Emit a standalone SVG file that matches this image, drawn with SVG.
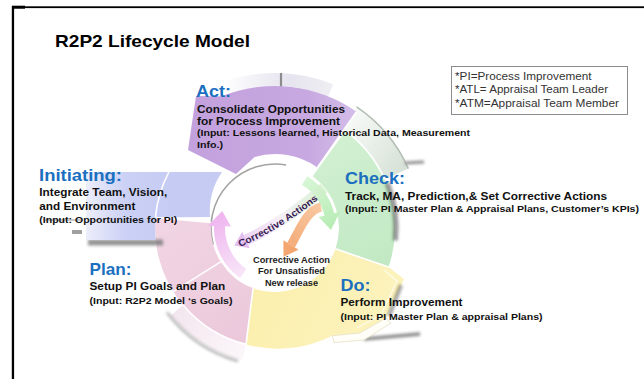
<svg xmlns="http://www.w3.org/2000/svg" width="644" height="379" viewBox="0 0 644 379">
<defs>
<style>
.t{font-family:"Liberation Sans",Arial,Helvetica,sans-serif;font-weight:700}
.ttl{font-size:17px;fill:#000}
.ph{font-size:16.5px;fill:#1b6fbf}
.ds{font-size:10.8px;fill:#111}
.in{font-size:9.7px;fill:#111}
.ct{font-size:8.6px;fill:#222;text-anchor:middle}
.ca{font-size:9.6px;fill:#3a1c55}
.lg{font-family:"Liberation Sans",Arial,Helvetica,sans-serif;font-size:11.3px;fill:#333}
.dv{fill:none;stroke:#fff;stroke-width:1.6}
.sh{fill:none;filter:url(#soft)}
</style>
<filter id="soft" filterUnits="userSpaceOnUse" x="0" y="0" width="644" height="379"><feGaussianBlur stdDeviation="1.6"/></filter>
<filter id="fine" filterUnits="userSpaceOnUse" x="0" y="0" width="644" height="379"><feGaussianBlur stdDeviation="0.7"/></filter>
<linearGradient id="gBlue" gradientUnits="userSpaceOnUse" x1="86" y1="0" x2="175" y2="0"><stop offset="0" stop-color="#eceefb"/><stop offset="0.45" stop-color="#cbd0f5"/><stop offset="1" stop-color="#c5cbf3"/></linearGradient>
<linearGradient id="gPurple" gradientUnits="userSpaceOnUse" x1="190" y1="0" x2="356" y2="0"><stop offset="0" stop-color="#c3a1dd"/><stop offset="0.7" stop-color="#c7a8e0"/><stop offset="1" stop-color="#d3bde8"/></linearGradient>
<linearGradient id="gGreen" gradientUnits="userSpaceOnUse" x1="320" y1="130" x2="380" y2="260"><stop offset="0" stop-color="#d3f1d3"/><stop offset="1" stop-color="#c2e9c4"/></linearGradient>
<linearGradient id="gYellow" gradientUnits="userSpaceOnUse" x1="250" y1="260" x2="400" y2="330"><stop offset="0" stop-color="#fbefac"/><stop offset="1" stop-color="#fcf3be"/></linearGradient>
<linearGradient id="gPink" gradientUnits="userSpaceOnUse" x1="160" y1="220" x2="250" y2="340"><stop offset="0" stop-color="#f1d5e4"/><stop offset="1" stop-color="#ebc8db"/></linearGradient>
<linearGradient id="gBandG" gradientUnits="userSpaceOnUse" x1="345" y1="125" x2="410" y2="170"><stop offset="0" stop-color="#f7faf7"/><stop offset="1" stop-color="#d4dfd4"/></linearGradient>
<linearGradient id="gBandA" gradientUnits="userSpaceOnUse" x1="222" y1="0" x2="333" y2="0"><stop offset="0" stop-color="#ffffff"/><stop offset="0.6" stop-color="#e6e4ee"/><stop offset="1" stop-color="#efeef3"/></linearGradient>
<linearGradient id="gBandP" gradientUnits="userSpaceOnUse" x1="175" y1="310" x2="245" y2="360"><stop offset="0" stop-color="#f3e6ee"/><stop offset="1" stop-color="#fcf7fa"/></linearGradient>
<linearGradient id="gCA" gradientUnits="userSpaceOnUse" x1="236" y1="0" x2="324" y2="0"><stop offset="0" stop-color="#e4c2f2"/><stop offset="0.5" stop-color="#f3ecf6"/><stop offset="1" stop-color="#cdefc6"/></linearGradient>
<linearGradient id="gOrange" gradientUnits="userSpaceOnUse" x1="322" y1="205" x2="283" y2="257"><stop offset="0" stop-color="#f9c9a3"/><stop offset="1" stop-color="#f3a46e"/></linearGradient>
<linearGradient id="gPinkArrow" gradientUnits="userSpaceOnUse" x1="244" y1="276" x2="215" y2="212"><stop offset="0" stop-color="#f8e6f8"/><stop offset="1" stop-color="#eeb2ee"/></linearGradient>
<linearGradient id="gGreenArrow" gradientUnits="userSpaceOnUse" x1="305" y1="176" x2="332" y2="228"><stop offset="0" stop-color="#d9f7d7"/><stop offset="1" stop-color="#b6ecb4"/></linearGradient>
<path id="caPath" d="M 240,247 Q 284,228 326,193"/>
</defs>

<rect x="0" y="0" width="644" height="379" fill="#fff"/>

<!-- slide frame -->
<g id="frame" fill="#000">
<rect x="12" y="6.3" width="632" height="1.8"/>
<rect x="12" y="5.7" width="13" height="3"/>
<rect x="11.8" y="6" width="2.3" height="373"/>
</g>

<g id="title">
<text class="t ttl" x="55" y="47" textLength="195" lengthAdjust="spacingAndGlyphs">R2P2 Lifecycle Model</text>
</g>

<g id="legend">
<rect x="451.5" y="66.5" width="176" height="48" fill="#fff" stroke="#8c8c8c" stroke-width="1"/>
<text class="lg" x="455" y="80" textLength="136.5" lengthAdjust="spacingAndGlyphs">*PI=Process Improvement</text>
<text class="lg" x="455" y="93.3" textLength="153" lengthAdjust="spacingAndGlyphs">*ATL= Appraisal Team Leader</text>
<text class="lg" x="455" y="106.7" textLength="164" lengthAdjust="spacingAndGlyphs">*ATM=Appraisal Team Member</text>
</g>

<!-- white hub inside the ring -->
<g id="hub">
<circle cx="275" cy="228" r="64" fill="#fff"/>
<path class="sh" d="M 213.2,244.6 A 64 64 0 0 1 286.1,165" stroke="#a4a4a4" stroke-width="1.6" style="filter:url(#fine)"/>
</g>

<!-- Check segment -->
<g id="check">
<path d="M 342.1,128.5 L 356.6,106.9 A 146 146 0 0 1 408.4,168.6 L 384.6,179.2 A 120 120 0 0 0 342.1,128.5 Z" fill="url(#gBandG)"/>
<path d="M 356.6,106.9 A 146 146 0 0 1 408.4,168.6" fill="none" stroke="#b3bdb3" stroke-width="1.5"/>
<path class="sh" d="M 405,163 L 424,162" stroke="#8c8c8c" stroke-width="3"/>
<path d="M 312.6,176.2 L 345.5,130.9 A 120 120 0 0 1 388.5,267.1 L 335.5,248.8 A 64 64 0 0 0 312.6,176.2 Z" fill="url(#gGreen)"/>
<path class="dv" d="M 342.1,128.5 A 120 120 0 0 1 384.6,179.2"/>
<path class="sh" d="M 387.2,182.7 A 121 121 0 0 1 395.3,240.6" stroke="#3c3c3c" stroke-width="5" opacity="0.55"/>
<text class="t ph" x="345" y="184" textLength="60" lengthAdjust="spacingAndGlyphs">Check:</text>
<text class="t ds" x="345" y="199.5" textLength="262" lengthAdjust="spacingAndGlyphs">Track, MA, Prediction,&amp; Set Corrective Actions</text>
<text class="t in" x="345" y="212" textLength="294" lengthAdjust="spacingAndGlyphs">(Input: PI Master Plan &amp; Appraisal Plans, Customer’s KPIs)</text>
</g>

<!-- Do segment -->
<g id="do">
<path d="M 335.5,248.8 L 388.5,267.1 L 404,279 L 386,318 L 360,333 L 332.3,335.7 A 120 120 0 0 1 246,344.4 L 253.1,288.1 A 64 64 0 0 0 335.5,248.8 Z" fill="url(#gYellow)"/>
<path d="M 384,270 L 397,281 L 381,315 L 357,328" fill="none" stroke="#fffbe8" stroke-width="1.4"/>
<path class="sh" d="M 364,339 L 420,334" stroke="#8a8a8a" stroke-width="3.5"/>
<path d="M 332.3,335.7 L 360,333 L 386,318 L 391,323 L 364,340 L 334,342.5 Z" fill="#fffef8" stroke="#e6dfc4" stroke-width="0.8"/>
<path class="sh" d="M 401,285 L 389,316" stroke="#444" stroke-width="4" opacity="0.5"/>
<path class="dv" d="M 335.5,248.8 L 388.5,267.1"/>
<text class="t ph" x="340.5" y="290.5" textLength="30" lengthAdjust="spacingAndGlyphs">Do:</text>
<text class="t ds" x="340.5" y="306" textLength="122" lengthAdjust="spacingAndGlyphs">Perform Improvement</text>
<text class="t in" x="340.5" y="319.5" textLength="202" lengthAdjust="spacingAndGlyphs">(Input: PI Master Plan &amp; appraisal Plans)</text>
</g>

<!-- Plan segment -->
<g id="plan">
<path d="M 246,344.4 L 242.1,360 A 136 136 0 0 1 170.8,315.4 L 183.1,305.1 A 120 120 0 0 0 246,344.4 Z" fill="url(#gBandP)"/>
<path class="sh" d="M 238,361 A 137 137 0 0 1 167,312.4" stroke="#8e8e8e" stroke-width="2.5" opacity="0.7"/>
<path d="M 253.1,288.1 L 246,344.4 A 120 120 0 0 1 155.5,217.5 L 211.2,222.4 A 64 64 0 0 0 253.1,288.1 Z" fill="url(#gPink)"/>
<path class="dv" d="M 220.7,261.9 L 173.2,291.6"/>
<path class="dv" d="M 253.1,288.1 L 246,344.4"/>
<path class="dv" d="M 246,344.4 A 120 120 0 0 1 183.1,305.1"/>
<text class="t ph" x="89.5" y="275" textLength="42" lengthAdjust="spacingAndGlyphs">Plan:</text>
<text class="t ds" x="89.5" y="290" textLength="135.7" lengthAdjust="spacingAndGlyphs">Setup PI Goals and Plan</text>
<text class="t in" x="89.5" y="303.5" textLength="143" lengthAdjust="spacingAndGlyphs">(Input: R2P2 Model ‘s Goals)</text>
</g>

<!-- Initiating segment -->
<g id="initiating">
<rect x="88" y="239.5" width="75" height="6" fill="#707070" opacity="0.75" filter="url(#soft)"/>
<path d="M 86,172 L 222,172 A 70 70 0 0 0 210,217 L 155.5,217.5 A 120 120 0 0 0 155.6,240 L 86,240 Z" fill="url(#gBlue)"/>
<path class="dv" d="M 168.9,172 A 120 120 0 0 0 155.5,217"/>
<path class="dv" d="M 155.5,217.5 L 211.2,222.4"/>
<rect x="72" y="230" width="10" height="4" fill="#a0a0a0" filter="url(#fine)"/>
<path d="M 45,220 L 82,220" stroke="#7a7a7a" stroke-width="1.1" opacity="0.8"/>
<text class="t ph" x="39" y="181" textLength="83" lengthAdjust="spacingAndGlyphs">Initiating:</text>
<text class="t ds" x="39.3" y="196" textLength="128" lengthAdjust="spacingAndGlyphs">Integrate Team, Vision,</text>
<text class="t ds" x="39.3" y="210" textLength="96" lengthAdjust="spacingAndGlyphs">and Environment</text>
<text class="t in" x="39.3" y="223" textLength="138" lengthAdjust="spacingAndGlyphs">(Input: Opportunities for PI)</text>
</g>

<!-- Act segment (arrow) -->
<g id="act">
<path d="M 226.4,94.6 L 222,82.3 A 155 155 0 0 1 333.1,84.3 L 328.2,96.3 A 142 142 0 0 0 226.4,94.6 Z" fill="url(#gBandA)"/>
<path d="M 281,73 L 281,90 L 296,91" fill="none" stroke="#8c8c8c" stroke-width="2.2" filter="url(#fine)"/>
<path d="M 356.5,111.7 A 142 142 0 0 0 221.8,96.3 L 196,96 L 188,150 L 236,174 L 254.6,156.9 A 74 74 0 0 1 317.4,167.4 Z" fill="url(#gPurple)"/>
<path class="dv" d="M 317.4,167.4 L 356.5,111.7"/>
<text class="t ph" x="196" y="97" textLength="35" lengthAdjust="spacingAndGlyphs">Act:</text>
<text class="t ds" x="197" y="112.8" textLength="148" lengthAdjust="spacingAndGlyphs">Consolidate Opportunities</text>
<text class="t ds" x="197" y="124.5" textLength="143" lengthAdjust="spacingAndGlyphs">for Process Improvement</text>
<text class="t in" x="197" y="136" textLength="273" lengthAdjust="spacingAndGlyphs">(Input: Lessons learned, Historical Data, Measurement</text>
<text class="t in" x="197" y="147.5" textLength="26" lengthAdjust="spacingAndGlyphs">Info.)</text>
</g>

<!-- inner flows -->
<g id="connectors">
<path d="M 307.3,176.3 A 61 61 0 0 1 334.2,213.2 L 340,211.8 L 331,230 L 318.7,217.1 L 324.5,215.7 A 51 51 0 0 0 302,184.8 Z" fill="url(#gGreenArrow)"/>
<path d="M 240,278 A 61 61 0 0 1 214,225.9 L 208,225.7 L 222.2,210.9 L 231,226.5 L 225,226.3 A 50 50 0 0 0 246.3,269 Z" fill="url(#gPinkArrow)"/>
<path d="M 246,240 Q 283,223 324,188" fill="none" stroke="url(#gCA)" stroke-width="11" opacity="0.8"/>
<path d="M 249.8,248.2 L 234.2,245.4 L 242.2,231.8 Z" fill="#e2c0f0"/>
<path d="M 321,207 C 306,210 298,234 291,245" fill="none" stroke="url(#gOrange)" stroke-width="9"/>
<path d="M 298.6,249.8 L 283.5,256.8 L 283.4,240.2 Z" fill="#f3a670"/>
<text class="t ca"><textPath href="#caPath" textLength="92" lengthAdjust="spacingAndGlyphs">Corrective Actions</textPath></text>
<text class="t ct" x="291.5" y="263" textLength="77" lengthAdjust="spacingAndGlyphs">Corrective Action</text>
<text class="t ct" x="291.5" y="274.3" textLength="67" lengthAdjust="spacingAndGlyphs">For Unsatisfied</text>
<text class="t ct" x="291.5" y="285.5" textLength="53" lengthAdjust="spacingAndGlyphs">New release</text>
</g>
</svg>
